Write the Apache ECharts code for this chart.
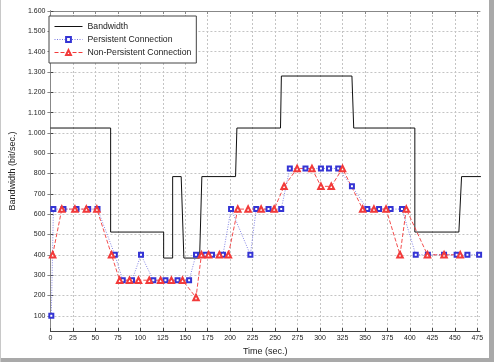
<!DOCTYPE html>
<html>
<head>
<meta charset="utf-8">
<script src="https://cdn.jsdelivr.net/npm/echarts@6/dist/echarts.min.js"></script>
<style>
html,body{margin:0;padding:0;background:#fff;}
#wrap{position:relative;width:494px;height:362px;overflow:hidden;background:#fff;}
#chart{position:absolute;left:0;top:0;width:494px;height:362px;}
.b{position:absolute;background:#a9a9a9;}
</style>
</head>
<body>
<div id="wrap">
<div id="chart"></div>
<div class="b" style="left:489px;top:0;width:5px;height:362px;"></div>
<div class="b" style="left:0;top:358px;width:494px;height:4px;"></div>
<div class="b" style="left:0;top:0;width:1px;height:362px;background:#c8c8c8"></div>
</div>
<script>
// ---- data ----
const xTicks = [0,25,50,75,100,125,150,175,200,225,250,275,300,325,350,375,400,425,450,475];
const yTicks = [100,200,300,400,500,600,700,800,900,1000,1100,1200,1300,1400,1500,1600];

const bwTime  = [0,67,67,126,126,136,136,145.5,148.5,166,168.5,206,207.5,256,257,335.5,337.5,405.5,405.5,454.5,457.5,479];
const bwValue = [1024,1024,512,512,384,384,785,785,384,384,785,785,1024,1024,1280,1280,1024,1024,512,512,785,785];

const pTime  = [1,3.3,14.5,29,42,52.4,71.7,80.5,90.8,100.8,114.5,128,141.5,154.3,162,172.5,179.8,192,201,222.5,229,242.7,256.8,266.4,283.8,301,310,320.2,335.5,352.6,365.7,378.5,391.2,406.5,420,438,452,464,477];
const pValue = [100,625,625,625,625,625,400,275,275,400,275,275,275,275,400,400,400,400,625,400,625,625,625,825,825,825,825,825,737,625,625,625,625,400,400,400,400,400,400];

const nTime  = [2.5,12.7,27.3,40,51.7,68,77,88,98,110,122.6,134.6,147,162,168,176,188,198,208.5,220,234.5,249,260,274.5,291,301,312.5,325,347.5,360,373.5,389,396,419.5,438,456];
const nValue = [400,625,625,625,625,400,275,275,275,275,275,275,275,190,400,400,400,400,625,625,625,625,737,825,825,737,737,825,625,625,625,400,625,400,400,400];

const seriesNames = ['Bandwidth','Persistent Connection','Non-Persistent Connection'];

function pairs(t, v){ return t.map((x,i)=>[x, v[i]]); }
function yFmt(v){ return v >= 1000 ? Math.floor(v/1000) + '.' + String(v%1000).padStart(3,'0') : String(v); }

const FONT = '"Liberation Sans", Arial, sans-serif';
const chart = echarts.init(document.getElementById('chart'), null, {renderer:'canvas'});
const grid = {left:41, right:14, top:11, bottom:31, containLabel:false};
const splitStyle = {show:true, lineStyle:{color:'#c4c4c4', type:[2,2], width:1}};
const BLUE = '#3434d4', RED = '#f23a3a';

chart.setOption({
  animation:false,
  backgroundColor:'#ffffff',
  grid: grid,
  legend: {
    left:49, top:16, orient:'vertical',
    data: [
      {name:seriesNames[0], itemStyle:{opacity:0}},
      {name:seriesNames[1]},
      {name:seriesNames[2]}
    ],
    backgroundColor:'#fff', borderColor:'#444', borderWidth:1,
    padding:[5,5,5,5], itemGap:2, itemWidth:28, itemHeight:6,
    lineStyle:{width:1},
    itemStyle:{borderWidth:0.8},
    textStyle:{fontFamily:FONT, fontSize:8.7, color:'#222', lineHeight:11}
  },
  xAxis: [{
    type:'value', min:0, max:478, position:'bottom',
    name:'Time (sec.)', nameLocation:'middle', nameGap:14,
    nameTextStyle:{fontFamily:FONT, fontSize:9, color:'#222'},
    axisLine:{show:true, lineStyle:{color:'#444', width:1}},
    axisTick:{show:true, inside:true, length:3, customValues:xTicks, lineStyle:{color:'#444'}},
    axisLabel:{customValues:xTicks, fontFamily:FONT, fontSize:7, color:'#222', margin:4},
    splitLine: splitStyle
  },{
    type:'value', min:0, max:478, position:'top',
    axisLine:{show:true, lineStyle:{color:'#888', width:1}},
    axisTick:{show:true, inside:true, length:3, customValues:xTicks, lineStyle:{color:'#888'}},
    axisLabel:{show:false}, splitLine:{show:false}
  }],
  yAxis: [{
    type:'value', min:25, max:1600, position:'left',
    name:'Bandwidth (bit/sec.)', nameLocation:'middle', nameGap:31, nameRotate:90,
    nameTextStyle:{fontFamily:FONT, fontSize:9, color:'#222'},
    axisLine:{show:true, lineStyle:{color:'#444', width:1}},
    axisTick:{show:true, inside:true, length:3, customValues:yTicks, lineStyle:{color:'#444'}},
    axisLabel:{customValues:yTicks, formatter:yFmt, fontFamily:FONT, fontSize:7, color:'#222', margin:5},
    splitLine: splitStyle
  },{
    type:'value', min:25, max:1600, position:'right',
    axisLine:{show:true, lineStyle:{color:'#888', width:1}},
    axisTick:{show:true, inside:true, length:3, customValues:yTicks, lineStyle:{color:'#888'}},
    axisLabel:{show:false}, splitLine:{show:false}
  }],
  series: [{
    name:seriesNames[0], type:'line', data:pairs(bwTime,bwValue),
    symbol:'none', lineStyle:{color:'#111', width:1}, itemStyle:{color:'#111'}
  },{
    name:seriesNames[1], type:'line', data:pairs(pTime,pValue),
    symbol:'emptyRect', symbolSize:4,
    lineStyle:{color:'#7575e2', width:0.9, type:[1,1.5]},
    itemStyle:{color:BLUE, borderColor:BLUE, borderWidth:0.8}
  },{
    name:seriesNames[2], type:'line', data:pairs(nTime,nValue),
    symbol:'emptyTriangle', symbolSize:5.5,
    lineStyle:{color:RED, width:0.9, type:[4,2]},
    itemStyle:{color:RED, borderColor:RED, borderWidth:0.8}
  }]
});
</script>
</body>
</html>
